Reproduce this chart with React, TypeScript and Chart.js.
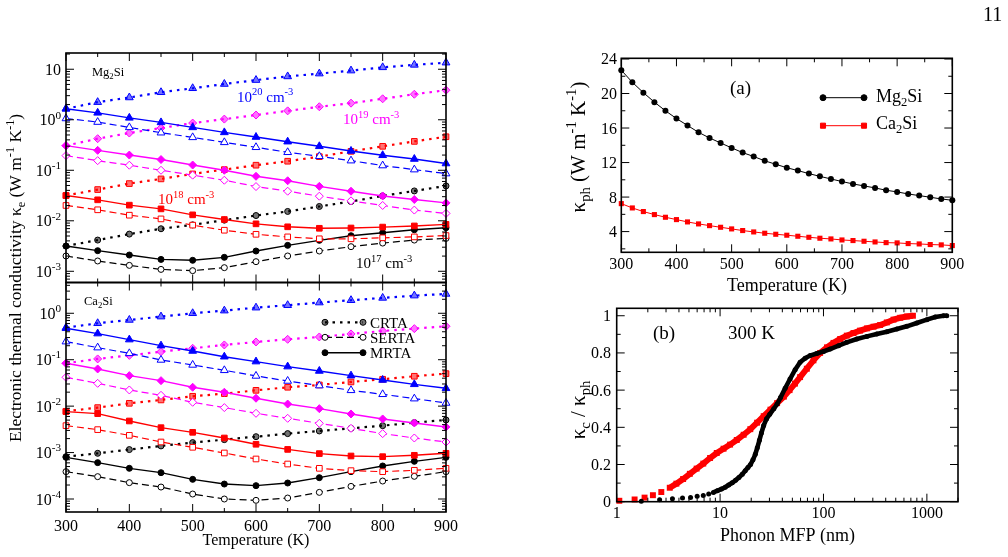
import React, { useEffect, useRef } from "react";
import { Chart, registerables } from "chart.js";
import { drawPoint } from "chart.js/helpers";

Chart.register(...registerables);

const FONT = "'Liberation Serif', 'Times New Roman', Times, serif";
const BLUE = "#0000ff";
const MAGENTA = "#ff00ff";
const RED = "#ff0000";
const BLACK = "#000000";

// ---------- Left panels: electronic thermal conductivity ----------
const temperatures = [300, 350, 400, 450, 500, 550, 600, 650, 700, 750, 800, 850, 900];

// Mg2Si
const mgCrta20 = [1.65, 2.23, 2.76, 3.5, 4.2, 5.1, 6.1, 7.2, 8.2, 9.4, 10.9, 12.2, 13.5];
const mgSerta20 = [1.06, 0.9, 0.706, 0.554, 0.448, 0.357, 0.285, 0.227, 0.189, 0.155, 0.124, 0.103, 0.086];
const mgMrta20 = [1.65, 1.37, 1.09, 0.886, 0.706, 0.562, 0.455, 0.368, 0.298, 0.241, 0.198, 0.167, 0.136];
const mgCrta19 = [0.307, 0.422, 0.546, 0.685, 0.86, 1.03, 1.24, 1.5, 1.81, 2.13, 2.6, 3.2, 3.85];
const mgSerta19 = [0.195, 0.155, 0.126, 0.1, 0.08, 0.0635, 0.0476, 0.0385, 0.0307, 0.0248, 0.0201, 0.0163, 0.014];
const mgMrta19 = [0.307, 0.248, 0.2, 0.163, 0.127, 0.1, 0.076, 0.062, 0.048, 0.0385, 0.031, 0.0264, 0.0226];
const mgCrta18 = [0.0316, 0.0415, 0.0545, 0.0675, 0.0847, 0.103, 0.126, 0.151, 0.186, 0.237, 0.298, 0.373, 0.461];
const mgSerta18 = [0.0201, 0.0165, 0.0129, 0.0109, 0.0082, 0.0065, 0.0054, 0.0048, 0.0044, 0.0044, 0.0046, 0.0048, 0.0051];
const mgMrta18 = [0.0316, 0.026, 0.0204, 0.0172, 0.0131, 0.0106, 0.0087, 0.0076, 0.0071, 0.0072, 0.0075, 0.0079, 0.0085];
const mgCrta17 = [0.00316, 0.00415, 0.00545, 0.00695, 0.0083, 0.0103, 0.0127, 0.0153, 0.0192, 0.0241, 0.0311, 0.039, 0.049];
const mgSerta17 = [0.00201, 0.0016, 0.00131, 0.00109, 0.00103, 0.00118, 0.00155, 0.00201, 0.00252, 0.00307, 0.00362, 0.00415, 0.00448];
const mgMrta17 = [0.00316, 0.00256, 0.0021, 0.00172, 0.00165, 0.00189, 0.00252, 0.00326, 0.0041, 0.00506, 0.0058, 0.00664, 0.00728];

// Ca2Si
const caCrta20 = [0.491, 0.609, 0.718, 0.848, 1.0, 1.14, 1.32, 1.49, 1.7, 1.91, 2.14, 2.4, 2.61];
const caSerta20 = [0.245, 0.182, 0.137, 0.0988, 0.0771, 0.0591, 0.0447, 0.0348, 0.0277, 0.0219, 0.018, 0.0145, 0.0117];
const caMrta20 = [0.475, 0.365, 0.271, 0.201, 0.154, 0.116, 0.091, 0.071, 0.0572, 0.0454, 0.0366, 0.0295, 0.0242];
const caCrta19 = [0.0838, 0.104, 0.124, 0.149, 0.176, 0.208, 0.241, 0.275, 0.309, 0.359, 0.416, 0.467, 0.525];
const caSerta19 = [0.0418, 0.031, 0.0223, 0.0171, 0.0121, 0.0093, 0.00701, 0.00547, 0.00427, 0.00333, 0.00256, 0.00206, 0.00169];
const caMrta19 = [0.0838, 0.0632, 0.0454, 0.0354, 0.0255, 0.0199, 0.0148, 0.0111, 0.00883, 0.00678, 0.0053, 0.00434, 0.00356];
const caCrta18 = [0.00774, 0.0093, 0.0115, 0.0136, 0.0163, 0.0186, 0.0219, 0.0255, 0.0286, 0.0332, 0.0379, 0.044, 0.0501];
const caSerta18 = [0.0038, 0.00312, 0.00235, 0.00169, 0.0013, 0.00098, 0.000728, 0.000567, 0.000458, 0.000408, 0.000388, 0.000415, 0.000458];
const caMrta18 = [0.00762, 0.00689, 0.00479, 0.00344, 0.00273, 0.00206, 0.00151, 0.00117, 0.00095, 0.000844, 0.000817, 0.000873, 0.000964];
const caCrta17 = [0.000817, 0.000964, 0.00116, 0.00139, 0.00164, 0.0019, 0.0022, 0.00256, 0.00292, 0.00333, 0.0038, 0.00442, 0.00504];
const caSerta17 = [0.000388, 0.000303, 0.000225, 0.000181, 0.000128, 0.0001, 0.0000936, 0.000105, 0.000139, 0.000187, 0.000244, 0.000308, 0.000388];
const caMrta17 = [0.00079, 0.000607, 0.000458, 0.000369, 0.000265, 0.00021, 0.000194, 0.000221, 0.000288, 0.000388, 0.000514, 0.000648, 0.00079];

// ---------- Panel (a): lattice thermal conductivity ----------
const temperaturesA = [300, 320, 340, 360, 380, 400, 420, 440, 460, 480, 500, 520, 540, 560, 580, 600, 620, 640, 660, 680, 700, 720, 740, 760, 780, 800, 820, 840, 860, 880, 900];
const kphMg = [22.7, 21.3, 20.1, 19.0, 18.0, 17.1, 16.3, 15.5, 14.85, 14.27, 13.7, 13.15, 12.7, 12.2, 11.8, 11.4, 11.07, 10.72, 10.4, 10.1, 9.8, 9.52, 9.29, 9.06, 8.79, 8.6, 8.36, 8.17, 7.98, 7.78, 7.63];
const kphCa = [7.24, 6.74, 6.32, 5.97, 5.66, 5.39, 5.12, 4.89, 4.69, 4.5, 4.31, 4.12, 3.96, 3.81, 3.69, 3.58, 3.46, 3.34, 3.23, 3.15, 3.03, 2.96, 2.88, 2.8, 2.72, 2.69, 2.61, 2.57, 2.5, 2.46, 2.38];

// ---------- Panel (b): cumulative kappa vs MFP ----------
const mfpMg = [1.73, 2.6, 3.46, 4.33, 5.18, 6.0, 6.88, 7.76, 8.61, 9.42, 10.3, 11.2, 12.1, 13.1, 14.1, 15.2, 16.4, 17.5, 18.6, 19.7, 20.8, 21.9, 22.9, 24.0, 25.1, 26.4, 28.1, 30.2, 33.1, 35.6, 38.4, 42.6, 47.5, 53.2, 59.4, 66.5, 74.3, 86, 100, 116, 140, 168, 210, 263, 328, 410, 513, 640, 800, 1000, 1205, 1450, 1560];
const accMg = [0.003, 0.011, 0.016, 0.02, 0.023, 0.029, 0.034, 0.041, 0.05, 0.059, 0.068, 0.078, 0.09, 0.102, 0.115, 0.13, 0.148, 0.166, 0.184, 0.2, 0.225, 0.255, 0.29, 0.33, 0.37, 0.41, 0.445, 0.47, 0.5, 0.525, 0.56, 0.61, 0.66, 0.71, 0.75, 0.772, 0.786, 0.797, 0.808, 0.821, 0.839, 0.857, 0.875, 0.889, 0.902, 0.914, 0.929, 0.943, 0.961, 0.979, 0.993, 1.0, 1.0];
const mfpCa = [1.06, 1.49, 1.86, 2.24, 2.7, 3.26, 3.78, 4.39, 5.1, 5.93, 6.88, 8.0, 9.29, 10.8, 12.5, 14.5, 16.9, 19.6, 22.8, 26.4, 30.7, 35.6, 41.4, 47, 53, 59.4, 69, 80, 92.8, 108, 125, 145, 168, 195, 226, 263, 305, 353, 410, 476, 552, 640, 733];
const accCa = [0.005, 0.012, 0.022, 0.035, 0.052, 0.075, 0.097, 0.122, 0.15, 0.178, 0.205, 0.235, 0.262, 0.285, 0.307, 0.332, 0.36, 0.39, 0.425, 0.46, 0.495, 0.53, 0.565, 0.6, 0.635, 0.67, 0.715, 0.76, 0.8, 0.83, 0.854, 0.875, 0.893, 0.907, 0.92, 0.932, 0.941, 0.95, 0.964, 0.979, 0.989, 0.996, 1.0];
const mgDenseFrom = 8;
const caDenseFrom = 5;

// ---------- Tick values ----------
const tempMajor = [300, 400, 500, 600, 700, 800, 900];
const tempMinor = [350, 450, 550, 650, 750, 850];
const mgDecades = [-3, -2, -1, 0, 1];
const caDecades = [-4, -3, -2, -1, 0];
const kphMajor = [4, 8, 12, 16, 20, 24];
const kphMinor = [2, 6, 10, 14, 18, 22];
const accMajor = [0, 0.2, 0.4, 0.6, 0.8, 1];
const accMinor = [0.1, 0.3, 0.5, 0.7, 0.9];
const mfpDecades = [0, 1, 2, 3];

type Seg = [string, number];
type TextItem = { segs: Seg[]; x: number; y: number; size: number; color?: string; align?: "left" | "center" | "right"; rot?: number };

function drawRich(ctx: CanvasRenderingContext2D, t: TextItem) {
  const fontFor = (m: number) => `${m ? t.size * 0.7 : t.size}px ${FONT}`;
  let w = 0;
  for (const [s, m] of t.segs) {
    ctx.font = fontFor(m);
    w += ctx.measureText(s).width;
  }
  ctx.save();
  ctx.translate(t.x, t.y);
  if (t.rot) ctx.rotate(t.rot);
  ctx.fillStyle = t.color || BLACK;
  ctx.textAlign = "left";
  ctx.textBaseline = "alphabetic";
  let cx = t.align === "center" ? -w / 2 : t.align === "right" ? -w : 0;
  for (const [s, m] of t.segs) {
    ctx.font = fontFor(m);
    const dy = m === 1 ? -t.size * 0.42 : m === -1 ? t.size * 0.25 : 0;
    ctx.fillText(s, cx, dy);
    cx += ctx.measureText(s).width;
  }
  ctx.restore();
}

function logMinor(decades: number[]) {
  const out: number[] = [];
  for (let d = decades[0] - 1; d <= decades[decades.length - 1]; d++) {
    for (let k = 2; k <= 9; k++) out.push(k * Math.pow(10, d));
  }
  return out;
}

const pow10Label = (d: number): Seg[] => (d === 1 ? [["10", 0]] : [["10", 0], [String(d), 1]]);

interface LegendRow {
  x0: number; x1: number; y: number; color: string; dash: number[]; width: number;
  style: string; radius: number; fill: string; label: Seg[]; tx: number; size: number; dyText: number;
}

interface FrameCfg {
  xMajor: number[]; xMinor: number[]; yMajor: number[]; yMinor: number[];
  xLabels?: { values: number[]; segs: (v: number) => Seg[]; baseline: number; size: number };
  yLabels?: { values: number[]; segs: (v: number) => Seg[]; right: number; size: number; dy: number };
  texts: TextItem[];
  legend?: LegendRow[];
}

function framePlugin(cfg: FrameCfg) {
  return {
    id: "frame",
    afterDatasetsDraw(chart: any) {
      const ctx: CanvasRenderingContext2D = chart.ctx;
      const a = chart.chartArea;
      const xs = chart.scales.x;
      const ys = chart.scales.y;
      ctx.save();
      ctx.strokeStyle = BLACK;
      ctx.lineWidth = 1;
      ctx.setLineDash([]);
      const inX = (v: number) => v >= xs.min - 1e-9 && v <= xs.max + 1e-9;
      const inY = (v: number) => v >= ys.min - 1e-12 && v <= ys.max + 1e-9;
      const xt = (vals: number[], len: number) => {
        for (const v of vals) {
          if (!inX(v)) continue;
          const px = xs.getPixelForValue(v);
          ctx.beginPath();
          ctx.moveTo(px, a.bottom);
          ctx.lineTo(px, a.bottom - len);
          ctx.moveTo(px, a.top);
          ctx.lineTo(px, a.top + len);
          ctx.stroke();
        }
      };
      const yt = (vals: number[], len: number) => {
        for (const v of vals) {
          if (!inY(v)) continue;
          const py = ys.getPixelForValue(v);
          ctx.beginPath();
          ctx.moveTo(a.left, py);
          ctx.lineTo(a.left + len, py);
          ctx.moveTo(a.right, py);
          ctx.lineTo(a.right - len, py);
          ctx.stroke();
        }
      };
      xt(cfg.xMajor, 8);
      xt(cfg.xMinor, 4);
      yt(cfg.yMajor, 8);
      yt(cfg.yMinor, 4);
      ctx.lineWidth = 1.6;
      ctx.strokeRect(a.left, a.top, a.right - a.left, a.bottom - a.top);
      if (cfg.xLabels) {
        const L = cfg.xLabels;
        for (const v of L.values) {
          drawRich(ctx, { segs: L.segs(v), x: xs.getPixelForValue(v), y: L.baseline, size: L.size, align: "center" });
        }
      }
      if (cfg.yLabels) {
        const L = cfg.yLabels;
        for (const v of L.values) {
          drawRich(ctx, { segs: L.segs(v), x: L.right, y: ys.getPixelForValue(v) + L.dy, size: L.size, align: "right" });
        }
      }
      for (const t of cfg.texts) drawRich(ctx, t);
      if (cfg.legend) {
        for (const r of cfg.legend) {
          ctx.save();
          ctx.strokeStyle = r.color;
          ctx.lineWidth = r.width;
          ctx.setLineDash(r.dash);
          ctx.beginPath();
          ctx.moveTo(r.x0, r.y);
          ctx.lineTo(r.x1, r.y);
          ctx.stroke();
          ctx.setLineDash([]);
          ctx.fillStyle = r.fill;
          ctx.strokeStyle = r.color;
          ctx.lineWidth = 1;
          for (const px of [r.x0, r.x1]) {
            drawPoint(ctx, { pointStyle: r.style as any, radius: r.radius, rotation: 0, borderWidth: 1 } as any, px, r.y);
          }
          ctx.restore();
          drawRich(ctx, { segs: r.label, x: r.tx, y: r.y + r.dyText, size: r.size });
        }
      }
      ctx.restore();
    },
  };
}

const KIND: Record<string, { dash: number[]; width: number; fill: (c: string) => string }> = {
  crta: { dash: [2.5, 5], width: 2.2, fill: (c) => c + "8c" },
  serta: { dash: [7, 4], width: 1.2, fill: () => "#ffffff" },
  mrta: { dash: [], width: 1.4, fill: (c) => c },
};

function eSeries(values: number[], color: string, kind: string, style: string, radius: number) {
  const k = KIND[kind];
  return {
    data: temperatures.map((t, i) => ({ x: t, y: values[i] })),
    showLine: true,
    borderColor: color,
    borderWidth: k.width,
    borderDash: k.dash,
    pointStyle: style,
    pointRadius: radius,
    pointBorderWidth: 1,
    pointBorderColor: color,
    pointBackgroundColor: k.fill(color),
    clip: false,
  };
}

function leftDatasets(groups: { color: string; style: string; r: number; crta: number[]; serta: number[]; mrta: number[] }[]) {
  const ds: any[] = [];
  for (const g of groups) {
    ds.push(eSeries(g.crta, g.color, "crta", g.style, g.r));
    ds.push(eSeries(g.serta, g.color, "serta", g.style, g.r));
    ds.push(eSeries(g.mrta, g.color, "mrta", g.style, g.r));
  }
  return ds;
}

function baseOptions(area: { l: number; t: number; r: number; b: number }, x: any, y: any) {
  return {
    responsive: false,
    animation: false,
    devicePixelRatio: 1,
    events: [],
    layout: { padding: { left: area.l, top: area.t, right: 1008 - area.r, bottom: 557 - area.b } },
    plugins: { legend: { display: false }, tooltip: { enabled: false } },
    scales: { x: { ...x, display: false }, y: { ...y, display: false } },
  };
}

const tempLabel = (v: number): Seg[] => [[String(v), 0]];
const mgLeftArea = { l: 66, t: 53, r: 446, b: 282.5 };
const caLeftArea = { l: 66, t: 282.5, r: 446, b: 512 };

function mgConfig() {
  return {
    type: "scatter",
    data: {
      datasets: leftDatasets([
        { color: BLUE, style: "triangle", r: 4.5, crta: mgCrta20, serta: mgSerta20, mrta: mgMrta20 },
        { color: MAGENTA, style: "rectRot", r: 4, crta: mgCrta19, serta: mgSerta19, mrta: mgMrta19 },
        { color: RED, style: "rect", r: 4, crta: mgCrta18, serta: mgSerta18, mrta: mgMrta18 },
        { color: BLACK, style: "circle", r: 3, crta: mgCrta17, serta: mgSerta17, mrta: mgMrta17 },
      ]),
    },
    options: baseOptions(mgLeftArea, { type: "linear", min: 300, max: 900 }, { type: "logarithmic", min: 6.3e-4, max: 20.97 }),
    plugins: [
      framePlugin({
        xMajor: tempMajor, xMinor: tempMinor,
        yMajor: mgDecades.map((d) => Math.pow(10, d)), yMinor: logMinor(mgDecades),
        yLabels: { values: mgDecades.map((d) => Math.pow(10, d)), segs: (v) => pow10Label(Math.round(Math.log10(v))), right: 61, size: 16, dy: 5.5 },
        texts: [
          { segs: [["Mg", 0], ["2", -1], ["Si", 0]], x: 92, y: 76, size: 12.5 },
          { segs: [["10", 0], ["20", 1], [" cm", 0], ["-3", 1]], x: 237, y: 101.7, size: 15, color: BLUE },
          { segs: [["10", 0], ["19", 1], [" cm", 0], ["-3", 1]], x: 343, y: 124, size: 15, color: MAGENTA },
          { segs: [["10", 0], ["18", 1], [" cm", 0], ["-3", 1]], x: 158, y: 204, size: 15, color: RED },
          { segs: [["10", 0], ["17", 1], [" cm", 0], ["-3", 1]], x: 356, y: 268.3, size: 15, color: BLACK },
          {
            segs: [["Electronic thermal conductivity κ", 0], ["e", -1], [" (W m", 0], ["-1", 1], [" K", 0], ["-1", 1], [")", 0]],
            x: 21, y: 278, size: 17.5, align: "center", rot: -Math.PI / 2,
          },
        ],
      }),
    ],
  };
}

function caConfig() {
  return {
    type: "scatter",
    data: {
      datasets: leftDatasets([
        { color: BLUE, style: "triangle", r: 4.5, crta: caCrta20, serta: caSerta20, mrta: caMrta20 },
        { color: MAGENTA, style: "rectRot", r: 4, crta: caCrta19, serta: caSerta19, mrta: caMrta19 },
        { color: RED, style: "rect", r: 4, crta: caCrta18, serta: caSerta18, mrta: caMrta18 },
        { color: BLACK, style: "circle", r: 3, crta: caCrta17, serta: caSerta17, mrta: caMrta17 },
      ]),
    },
    options: baseOptions(caLeftArea, { type: "linear", min: 300, max: 900 }, { type: "logarithmic", min: 5.25e-5, max: 4.6 }),
    plugins: [
      framePlugin({
        xMajor: tempMajor, xMinor: tempMinor,
        yMajor: caDecades.map((d) => Math.pow(10, d)), yMinor: logMinor(caDecades),
        xLabels: { values: tempMajor, segs: tempLabel, baseline: 531, size: 16 },
        yLabels: { values: caDecades.map((d) => Math.pow(10, d)), segs: (v) => pow10Label(Math.round(Math.log10(v))), right: 61, size: 16, dy: 5.5 },
        texts: [
          { segs: [["Ca", 0], ["2", -1], ["Si", 0]], x: 84, y: 305, size: 12.5 },
          { segs: [["Temperature (K)", 0]], x: 256, y: 545, size: 16, align: "center" },
        ],
        legend: [
          { x0: 325, x1: 363, y: 322.3, color: BLACK, dash: KIND.crta.dash, width: KIND.crta.width, style: "circle", radius: 3, fill: KIND.crta.fill(BLACK), label: [["CRTA", 0]], tx: 370, size: 15, dyText: 5.5 },
          { x0: 325, x1: 363, y: 337.3, color: BLACK, dash: KIND.serta.dash, width: KIND.serta.width, style: "circle", radius: 3, fill: "#ffffff", label: [["SERTA", 0]], tx: 370, size: 15, dyText: 5.5 },
          { x0: 325, x1: 363, y: 352.7, color: BLACK, dash: [], width: KIND.mrta.width, style: "circle", radius: 3, fill: BLACK, label: [["MRTA", 0]], tx: 370, size: 15, dyText: 5.5 },
        ],
      }),
    ],
  };
}

function aConfig() {
  return {
    type: "scatter",
    data: {
      datasets: [
        {
          data: temperaturesA.map((t, i) => ({ x: t, y: kphMg[i] })),
          showLine: true, borderColor: BLACK, borderWidth: 1,
          pointStyle: "circle", pointRadius: 3, pointBorderWidth: 0, pointBackgroundColor: BLACK, clip: false,
        },
        {
          data: temperaturesA.map((t, i) => ({ x: t, y: kphCa[i] })),
          showLine: true, borderColor: RED, borderWidth: 1,
          pointStyle: "rect", pointRadius: 3.6, pointBorderWidth: 0, pointBackgroundColor: RED, clip: false,
        },
      ],
    },
    options: baseOptions({ l: 621.3, t: 58.3, r: 952.3, b: 252.3 }, { type: "linear", min: 300, max: 900 }, { type: "linear", min: 1.6, max: 24.08 }),
    plugins: [
      framePlugin({
        xMajor: tempMajor, xMinor: tempMinor, yMajor: kphMajor, yMinor: kphMinor,
        xLabels: { values: tempMajor, segs: tempLabel, baseline: 269, size: 16 },
        yLabels: { values: kphMajor, segs: (v) => [[String(v), 0]], right: 617, size: 16, dy: 5.5 },
        texts: [
          { segs: [["(a)", 0]], x: 730, y: 93.5, size: 19 },
          { segs: [["Temperature (K)", 0]], x: 787, y: 291, size: 18, align: "center" },
          {
            segs: [["κ", 0], ["ph", -1], [" (W m", 0], ["-1", 1], [" K", 0], ["-1", 1], [")", 0]],
            x: 585, y: 147, size: 21, align: "center", rot: -Math.PI / 2,
          },
        ],
        legend: [
          { x0: 823, x1: 864, y: 97.7, color: BLACK, dash: [], width: 1, style: "circle", radius: 3, fill: BLACK, label: [["Mg", 0], ["2", -1], ["Si", 0]], tx: 876, size: 18, dyText: 4 },
          { x0: 823, x1: 864, y: 125.7, color: RED, dash: [], width: 1, style: "rect", radius: 3.6, fill: RED, label: [["Ca", 0], ["2", -1], ["Si", 0]], tx: 876, size: 18, dyText: 3 },
        ],
      }),
    ],
  };
}

function bConfig() {
  const seg = (color: string, from: number) => ({
    borderColor: (c: any) => (c.p0DataIndex >= from ? color : "rgba(0,0,0,0)"),
  });
  return {
    type: "scatter",
    data: {
      datasets: [
        {
          data: mfpMg.map((m, i) => ({ x: m, y: accMg[i] })),
          showLine: true, borderColor: BLACK, borderWidth: 4.6, segment: seg(BLACK, mgDenseFrom),
          pointStyle: "circle", pointRadius: 2.5, pointBorderWidth: 0, pointBackgroundColor: BLACK, clip: false,
        },
        {
          data: mfpCa.map((m, i) => ({ x: m, y: accCa[i] })),
          showLine: true, borderColor: RED, borderWidth: 6, segment: seg(RED, caDenseFrom),
          pointStyle: "rect", pointRadius: 4.2, pointBorderWidth: 0, pointBackgroundColor: RED, clip: false,
        },
      ],
    },
    options: baseOptions({ l: 616.7, t: 308.3, r: 958, b: 501.7 }, { type: "logarithmic", min: 1, max: 2000 }, { type: "linear", min: 0, max: 1.04 }),
    plugins: [
      framePlugin({
        xMajor: mfpDecades.map((d) => Math.pow(10, d)), xMinor: logMinor(mfpDecades),
        yMajor: accMajor, yMinor: accMinor,
        xLabels: { values: mfpDecades.map((d) => Math.pow(10, d)), segs: (v) => [[String(Math.round(v)), 0]], baseline: 518, size: 16 },
        yLabels: { values: accMajor, segs: (v) => [[v === 0 || v === 1 ? String(v) : v.toFixed(1), 0]], right: 611, size: 16, dy: 5.5 },
        texts: [
          { segs: [["(b)", 0]], x: 653, y: 339, size: 19 },
          { segs: [["300 K", 0]], x: 728, y: 339, size: 19 },
          { segs: [["Phonon MFP (nm)", 0]], x: 787.5, y: 541, size: 18, align: "center" },
          {
            segs: [["κ", 0], ["c", -1], [" / κ", 0], ["ph", -1]],
            x: 585, y: 410, size: 21, align: "center", rot: -Math.PI / 2,
          },
        ],
      }),
    ],
  };
}

function ChartLayer({ make }: { make: () => any }) {
  const ref = useRef<HTMLCanvasElement>(null);
  useEffect(() => {
    const chart = new Chart(ref.current as HTMLCanvasElement, make());
    return () => chart.destroy();
  }, []);
  return (
    <canvas
      ref={ref}
      width={1008}
      height={557}
      style={{ position: "absolute", left: 0, top: 0, width: 1008, height: 557 }}
    />
  );
}

export default function App() {
  return (
    <div style={{ position: "absolute", left: 0, top: 0, width: 1008, height: 557, background: "#ffffff", overflow: "hidden" }}>
      <ChartLayer make={mgConfig} />
      <ChartLayer make={caConfig} />
      <ChartLayer make={aConfig} />
      <ChartLayer make={bConfig} />
      <div style={{ position: "absolute", left: 983, top: 4, fontFamily: FONT, fontSize: 20, lineHeight: "20px", color: "#000" }}>11</div>
    </div>
  );
}
